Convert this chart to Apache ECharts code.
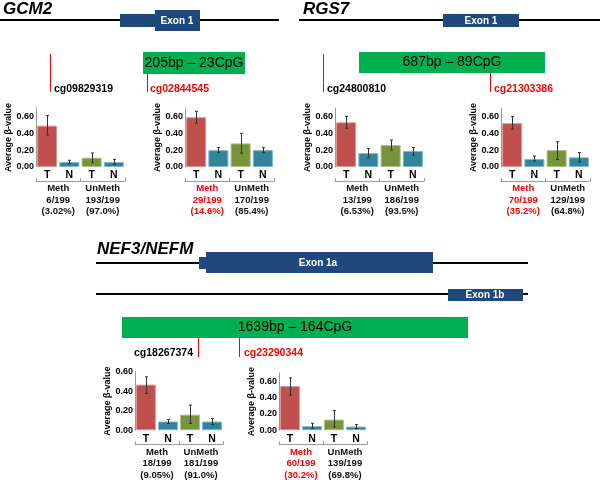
<!DOCTYPE html>
<html><head><meta charset="utf-8">
<script src="https://cdn.jsdelivr.net/npm/echarts@6/dist/echarts.min.js"></script>
<style>html,body{margin:0;padding:0;background:#fff}#c{width:600px;height:480px}</style>
</head><body><div id="c"></div>
<script>
// ---------- data ----------
const genes = ['GCM2', 'RGS7', 'NEF3/NEFM'];
const islands = ['205bp – 23CpG', '687bp – 89CpG', '1639bp – 164CpG'];
const exonNames = ['Exon 1', 'Exon 1', 'Exon 1a', 'Exon 1b'];
const probes = ['cg09829319', 'cg02844545', 'cg24800810', 'cg21303386', 'cg18267374', 'cg23290344'];
const highlighted = [false, true, false, true, false, true];
const barCats = ['T', 'N', 'T', 'N'];
const groups = ['Meth', 'UnMeth'];
const methT   = [0.49, 0.59, 0.53, 0.52, 0.47, 0.54];
const methN   = [0.06, 0.20, 0.165, 0.095, 0.09, 0.05];
const unmethT = [0.11, 0.28, 0.26, 0.20, 0.16, 0.13];
const unmethN = [0.06, 0.20, 0.19, 0.115, 0.09, 0.045];
const methTErr   = [[0.38, 0.61], [0.52, 0.66], [0.46, 0.60], [0.45, 0.60], [0.38, 0.55], [0.43, 0.64]];
const methNErr   = [[0.04, 0.08], [0.17, 0.23], [0.11, 0.22], [0.07, 0.13], [0.07, 0.11], [0.02, 0.085]];
const unmethTErr = [[0.05, 0.165], [0.165, 0.40], [0.20, 0.32], [0.09, 0.30], [0.07, 0.26], [0.04, 0.24]];
const unmethNErr = [[0.03, 0.09], [0.17, 0.23], [0.14, 0.23], [0.06, 0.17], [0.06, 0.12], [0.02, 0.07]];
const methCount   = ['6/199', '29/199', '13/199', '70/199', '18/199', '60/199'];
const methPct     = ['(3.02%)', '(14.6%)', '(6.53%)', '(35.2%)', '(9.05%)', '(30.2%)'];
const unmethCount = ['193/199', '170/199', '186/199', '129/199', '181/199', '139/199'];
const unmethPct   = ['(97.0%)', '(85.4%)', '(93.5%)', '(64.8%)', '(91.0%)', '(69.8%)'];
const yMax = [0.7, 0.7, 0.7, 0.7, 0.6, 0.7];
const yTicks = ['0.00', '0.20', '0.40', '0.60'];

// ---------- styling / layout ----------
const F = "'Liberation Sans', Arial, sans-serif";
const RED = '#FF0000', EXON = '#1F497D', ISLAND = '#00B050';
const barColors = ['#C0504D', '#31849B', '#77933C', '#31849B'];
const barBorders = ['#D99795', '#7FB7C8', '#A9BF80', '#7FB7C8'];
const layout = [[36, 108, 89, 59], [185, 108, 89, 59], [335, 108, 89, 59], [501, 108, 89, 59], [135, 372, 88, 60], [279, 373, 88, 59]];

function T(x, y, text, font, fill, align) {
  return { type: 'text', silent: true, style: { x, y, text, font, fill, textAlign: align || 'left', align: align || 'left', textVerticalAlign: 'middle', verticalAlign: 'middle' } };
}
function R(x, y, w, h, fill) { return { type: 'rect', silent: true, shape: { x, y, width: w, height: h }, style: { fill } }; }
function L(x1, y1, x2, y2, stroke, lw) { return { type: 'line', silent: true, shape: { x1, y1, x2, y2 }, style: { stroke, lineWidth: lw } }; }

const titleFont = 'italic bold 17px ' + F;
const exonFont = 'bold 10px ' + F;
const islandFont = '14px ' + F;
const probeFont = 'bold 10.5px ' + F;
const graphic = [
  T(3, 9, genes[0], titleFont, '#000'), T(303, 9, genes[1], titleFont, '#000'), T(97, 249, genes[2], titleFont, '#000'),
  L(0, 20, 279, 20, '#000', 2), L(299, 20, 600, 20, '#000', 2), L(96, 263, 528, 263, '#000', 2), L(96, 294, 528, 294, '#000', 2),
  R(120, 14, 36, 13, EXON), R(155, 10, 45, 21, EXON), R(443, 14, 76, 13, EXON),
  R(199, 257, 8, 12, EXON), R(206, 252, 227, 21, EXON), R(448, 289, 75, 12, EXON),
  T(177, 21, exonNames[0], exonFont, '#fff', 'center'), T(481, 21, exonNames[1], exonFont, '#fff', 'center'),
  T(318, 263, exonNames[2], exonFont, '#fff', 'center'), T(485, 295, exonNames[3], exonFont, '#fff', 'center'),
  R(143, 52, 102, 22, ISLAND), R(359, 52, 186, 21, ISLAND), R(122, 317, 346, 21, ISLAND),
  T(194, 63, islands[0], islandFont, '#000', 'center'), T(452, 62.5, islands[1], islandFont, '#000', 'center'), T(295, 327.5, islands[2], islandFont, '#000', 'center'),
  L(50.5, 54, 50.5, 92, RED, 1), L(147.5, 74, 147.5, 92, RED, 1), L(323.5, 54, 323.5, 92, RED, 1),
  L(490.5, 73, 490.5, 92, RED, 1), L(198.5, 338, 198.5, 357, RED, 1), L(239.5, 338, 239.5, 357, RED, 1),
  T(54, 89, probes[0], probeFont, highlighted[0] ? RED : '#000'), T(150, 89, probes[1], probeFont, highlighted[1] ? RED : '#000'),
  T(327, 89, probes[2], probeFont, highlighted[2] ? RED : '#000'), T(494, 89, probes[3], probeFont, highlighted[3] ? RED : '#000'),
  T(193, 353, probes[4], probeFont, highlighted[4] ? RED : '#000', 'right'), T(244, 353, probes[5], probeFont, highlighted[5] ? RED : '#000')
];

const grid = [], xAxis = [], yAxis = [], series = [];
const lblStyle = { fontFamily: F, fontWeight: 'bold', fontSize: 9, color: '#000' };
for (let i = 0; i < 6; i++) {
  const [l, t, w, h] = layout[i];
  grid.push({ left: l, top: t, width: w, height: h });
  xAxis.push({
    type: 'category', gridIndex: i, data: barCats, position: 'bottom',
    axisLine: { show: false }, axisTick: { show: false },
    axisLabel: { interval: 0, margin: 3, fontFamily: F, fontWeight: 'bold', fontSize: 10.5, color: '#000' }
  });
  const red = highlighted[i];
  const lines = [[groups[0], methCount[i], methPct[i]], [groups[1], unmethCount[i], unmethPct[i]]];
  xAxis.push({
    type: 'category', gridIndex: i, data: groups, position: 'bottom', offset: 14,
    axisLine: { show: true, lineStyle: { color: '#999', width: 1 } },
    axisTick: { show: true, inside: true, length: 3, alignWithLabel: false, interval: 0, lineStyle: { color: '#999' } },
    axisLabel: {
      interval: 0, margin: 2, hideOverlap: false,
      formatter: (v, idx) => { const k = (idx === 0 && red) ? 'r' : 'b'; return lines[idx].map(s => '{' + k + '|' + s + '}').join('\n'); },
      rich: {
        r: { color: RED, fontFamily: F, fontWeight: 'bold', fontSize: 9.5, lineHeight: 11.5 },
        b: { color: '#111', fontFamily: F, fontWeight: 'bold', fontSize: 9.5, lineHeight: 11.5 }
      }
    }
  });
  yAxis.push({
    type: 'value', gridIndex: i, min: 0, max: yMax[i], interval: 0.2,
    name: 'Average β-value', nameLocation: 'middle', nameRotate: 90, nameGap: 23,
    nameTextStyle: { fontFamily: F, fontWeight: 'bold', fontSize: 9, color: '#000' },
    axisLine: { show: true, lineStyle: { color: '#999' } }, axisTick: { show: false }, splitLine: { show: false },
    axisLabel: Object.assign({ margin: 2, formatter: v => { const s = v.toFixed(2); return yTicks.indexOf(s) >= 0 ? s : ''; } }, lblStyle)
  });
  const vals = [methT[i], methN[i], unmethT[i], unmethN[i]];
  series.push({
    type: 'bar', xAxisIndex: 2 * i, yAxisIndex: i, barCategoryGap: '10%', silent: true,
    data: vals.map((v, k) => ({ value: v, itemStyle: { color: barColors[k], borderColor: barBorders[k], borderWidth: 1 } }))
  });
  const errs = [methTErr[i], methNErr[i], unmethTErr[i], unmethNErr[i]];
  series.push({
    type: 'custom', xAxisIndex: 2 * i, yAxisIndex: i, silent: true, z: 5,
    encode: { x: 0, y: [1, 2] },
    data: errs.map((e, k) => [k, e[0], e[1]]),
    renderItem: (params, api) => {
      const lo = api.coord([api.value(0), api.value(1)]);
      const hi = api.coord([api.value(0), api.value(2)]);
      const x = Math.round(lo[0]) + 0.5;
      const st = { stroke: '#333', lineWidth: 1 };
      return { type: 'group', children: [
        { type: 'line', shape: { x1: x, y1: lo[1], x2: x, y2: hi[1] }, style: st },
        { type: 'line', shape: { x1: x - 1.5, y1: lo[1], x2: x + 1.5, y2: lo[1] }, style: st },
        { type: 'line', shape: { x1: x - 1.5, y1: hi[1], x2: x + 1.5, y2: hi[1] }, style: st }
      ] };
    }
  });
}

const chart = echarts.init(document.getElementById('c'), null, { renderer: 'canvas' });
chart.setOption({ backgroundColor: '#fff', animation: false, grid, xAxis, yAxis, series, graphic });
</script></body></html>
